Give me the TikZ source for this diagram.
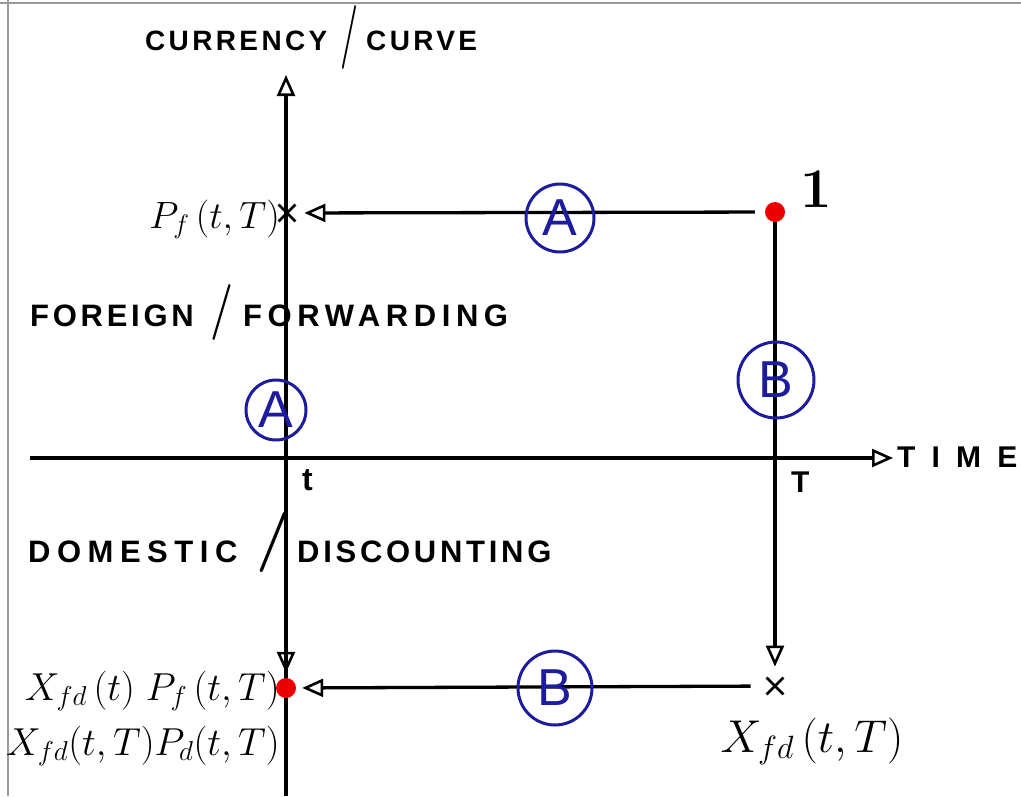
\RequirePackage{fix-cm}
\documentclass[tikz,border=0pt]{standalone}
\usepackage{fontspec}
\newfontfamily\hand[LetterSpace=12]{Liberation Sans}
\usetikzlibrary{arrows.meta,shapes.misc}
\definecolor{navy}{HTML}{1C1C9C}
\definecolor{dotred}{HTML}{EE0000}
\definecolor{framegray}{HTML}{9A9A9A}
% hand-drawn separator slash: size, x-scale, lowering
\newcommand{\penslash}[3]{\raisebox{-#3pt}{\rmfamily\fontsize{#1}{#1}\selectfont\scalebox{#2}[1]{/}}}
\tikzset{
  axisline/.style={line width=3.3pt, black},
  opentip/.style={-{Triangle[open,length=21pt,width=18pt,line width=2.6pt]}},
  flow/.style={axisline, opentip},
  tag/.style={circle, draw=navy, text=navy, line width=3pt,
              font=\hand\fontsize{52}{52}\selectfont, inner sep=0pt},
  reddot/.style={circle, fill=dotred, inner sep=0pt, minimum size=20pt},
  xmark/.style={cross out, draw, line width=2.8pt, minimum size=14pt, inner sep=0pt},
  lab/.style={font=\hand\bfseries\fontsize{30}{30}\selectfont, anchor=base west, inner sep=0pt},
  mlab/.style={inner sep=0pt},
}
\begin{document}
\begin{tikzpicture}[x=1pt,y=-1pt]
\useasboundingbox (0,0) rectangle (1021,796);
% frame edges
\draw[framegray, line width=2pt] (0,3) -- (1021,3);
\draw[framegray, line width=2pt] (8,0) -- (8,796);

% axes
\coordinate (yb) at (286,796);
\coordinate (yt) at (286,75);
\coordinate (xl) at (30,458);
\coordinate (xr) at (893,458);
\draw[flow] (yb) -- (yt);
\draw[flow] (xl) -- (xr);

% points
\node[reddot] (one) at (775,212) {};
\node[reddot] (pd) at (286,688) {};
\node[xmark] (xpf) at (287,213) {};
\node[xmark] (xfd) at (775,686) {};

% flows
\draw[flow, shorten <=10pt, shorten >=9pt] (one) -- (xpf);
\draw[flow, shorten >=11pt] (one) -- (xfd);
\draw[flow, shorten <=16pt, shorten >=6pt] (xfd) -- (pd);
\coordinate (ad) at (286,600);
\draw[flow, shorten >=5pt] (ad) -- (pd);

% tags
\node[tag, minimum size=68pt] (ta1) at (560,218) {A};
\node[tag, minimum size=60pt] (ta2) at (276,410) {A};
\node[tag, minimum size=76pt] (tb1) at (776,380) {B};
\node[tag, minimum size=74pt] (tb2) at (555,688) {B};

% texts
\node[lab, font=\hand\bfseries\fontsize{28}{28}\selectfont] (cur) at (145,50)
  {\makebox[188pt][l]{CURRENCY}\makebox[33pt][c]{\penslash{64}{0.5}{3}}\addfontfeature{LetterSpace=12}CURVE};
\node[lab, font=\hand\bfseries\fontsize{31}{31}\selectfont] (for) at (30,326)
  {\makebox[170pt][l]{FOREIGN}\makebox[43pt][c]{\penslash{56}{0.73}{0}}\addfontfeature{LetterSpace=18}FORWARDING};
\node[lab, font=\hand\bfseries\fontsize{31}{31}\selectfont] (dom) at (28,562)
  {\makebox[222pt][l]{\addfontfeature{LetterSpace=21}DOMESTIC}\makebox[47pt][c]{\penslash{60}{1}{-5}}DISCOUNTING};
\node[lab, font=\hand\bfseries\fontsize{30}{30}\selectfont] (time) at (897,467) {\addfontfeature{LetterSpace=54}TIME};
\node[lab, font=\hand\bfseries\fontsize{32}{32}\selectfont] (tl) at (302,490) {t};
\node[lab, font=\hand\bfseries\fontsize{30}{30}\selectfont] (Tl) at (791,492) {T};

\node[mlab, anchor=base] (onel) at (816,207) {\fontsize{56}{56}\selectfont\bfseries 1};
\node[mlab, anchor=base east] (pfl) at (280,228) {\fontsize{38}{42}\selectfont $P_f\,(t,T)$};
\node[mlab, anchor=base east] (l1) at (280,700) {\fontsize{39}{44}\selectfont $X_{fd}\,(t)\;P_f\,(t,T)$};
\node[mlab, anchor=base east] (l2) at (280,755) {\fontsize{39}{44}\selectfont $X_{fd}(t,T)P_d(t,T)$};
\node[mlab, anchor=base] (l3) at (812,752) {\fontsize{46}{50}\selectfont $X_{fd}\,(t,T)$};
\end{tikzpicture}
\end{document}
